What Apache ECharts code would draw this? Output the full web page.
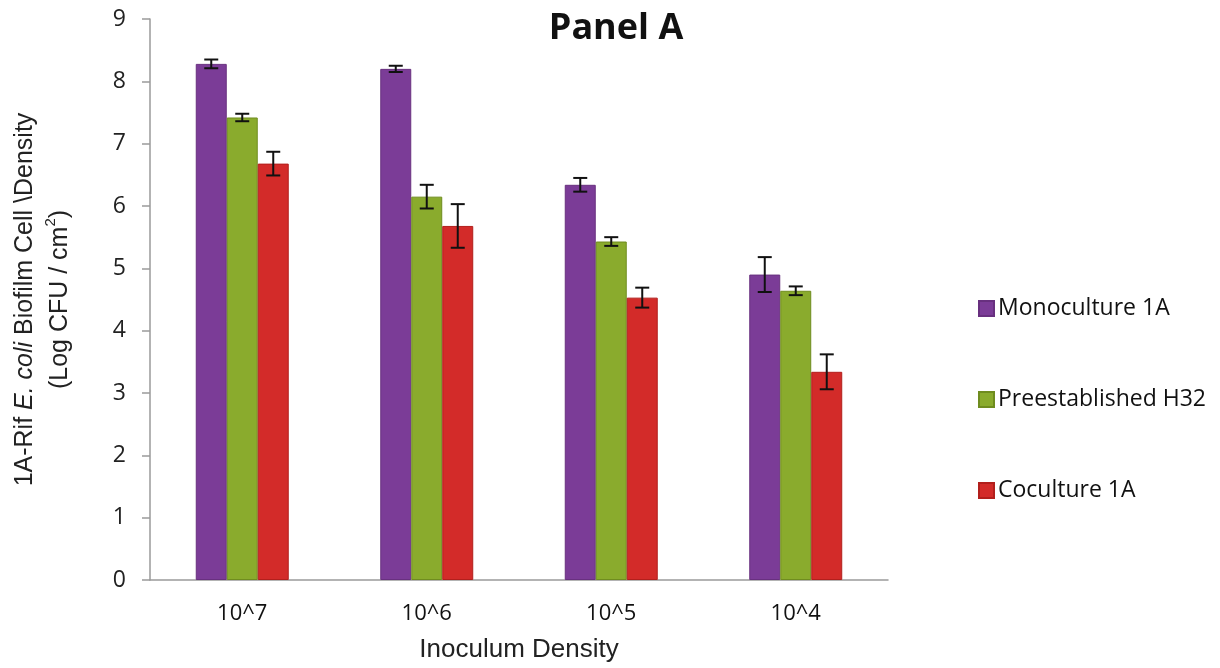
<!DOCTYPE html>
<html>
<head>
<meta charset="utf-8">
<script src="https://cdn.jsdelivr.net/npm/echarts@6/dist/echarts.min.js"></script>
<style>
  html, body { margin: 0; padding: 0; background: #fff; }
  #chart { width: 1220px; height: 668px; }
</style>
</head>
<body>
<div id="chart"></div>
<script>
// Inoculum densities on the x axis
const categories = ['10^7', '10^6', '10^5', '10^4'];
const seriesNames = ['Monoculture 1A', 'Preestablished H32', 'Coculture 1A'];

// Mean log CFU / cm² per inoculum density
const monoculture = [8.28, 8.20, 6.34, 4.90];
const preestablished = [7.42, 6.15, 5.43, 4.64];
const coculture = [6.68, 5.68, 4.53, 3.34];

// Error bar half-widths (± log CFU / cm²)
const monocultureErr = [0.07, 0.05, 0.11, 0.28];
const preestablishedErr = [0.06, 0.19, 0.07, 0.07];
const cocultureErr = [0.19, 0.35, 0.16, 0.28];

const yTicks = [0, 1, 2, 3, 4, 5, 6, 7, 8, 9];

const values = [monoculture, preestablished, coculture];
const errors = [monocultureErr, preestablishedErr, cocultureErr];
const colors = ['#7b3c97', '#8aab2d', '#d32b29'];
const borders = ['#68307f', '#6f8c1f', '#b21f1c'];
const BAR_FRACTION = 0.168;

const chart = echarts.init(document.getElementById('chart'), null, { renderer: 'canvas' });

const barSeries = values.map((vals, i) => ({
  name: seriesNames[i],
  type: 'bar',
  data: vals,
  barWidth: (BAR_FRACTION * 100) + '%',
  barGap: '0%',
  itemStyle: { color: colors[i], borderColor: borders[i], borderWidth: 1 },
  z: 2
}));

// Error bars drawn centred over each bar of the group
const errorSeries = values.map((vals, i) => ({
  name: seriesNames[i] + ' error',
  type: 'custom',
  data: vals.map((v, j) => [j, v - errors[i][j], v + errors[i][j]]),
  renderItem: function (params, api) {
    const band = api.size([1, 0])[0];
    const offset = (i - 1) * band * BAR_FRACTION;
    const lo = api.coord([api.value(0), api.value(1)]);
    const hi = api.coord([api.value(0), api.value(2)]);
    const x = lo[0] + offset;
    const cap = 7;
    const style = { stroke: '#111', lineWidth: 2 };
    return {
      type: 'group',
      children: [
        { type: 'line', shape: { x1: x, y1: lo[1], x2: x, y2: hi[1] }, style },
        { type: 'line', shape: { x1: x - cap, y1: lo[1], x2: x + cap, y2: lo[1] }, style },
        { type: 'line', shape: { x1: x - cap, y1: hi[1], x2: x + cap, y2: hi[1] }, style }
      ]
    };
  },
  encode: { x: 0, y: [1, 2] },
  z: 5,
  silent: true
}));

chart.setOption({
  backgroundColor: '#ffffff',
  animation: false,
  title: {
    text: 'Panel A',
    left: 611,
    top: 6,
    textAlign: 'center',
    textStyle: { fontFamily: 'Open Sans', fontWeight: 'bold', fontSize: 36, color: '#111' }
  },
  legend: {
    data: seriesNames,
    orient: 'vertical',
    left: 973,
    top: 292,
    itemGap: 68,
    itemWidth: 15,
    itemHeight: 15,
    icon: 'rect',
    textStyle: { fontFamily: 'Open Sans', fontSize: 23, color: '#111', padding: [0, 0, 0, -1] }
  },
  grid: { left: 150, right: 332, top: 19, bottom: 88, containLabel: false },
  xAxis: {
    type: 'category',
    data: categories,
    name: 'Inoculum Density',
    nameLocation: 'middle',
    nameGap: 57,
    nameTextStyle: { fontFamily: 'Liberation Sans', fontSize: 26, color: '#222' },
    axisLine: { lineStyle: { color: '#9a9a9a', width: 1.5 } },
    axisTick: { show: false },
    axisLabel: { fontFamily: 'Open Sans', fontSize: 22, color: '#111', margin: 23 }
  },
  yAxis: {
    type: 'value',
    min: yTicks[0],
    max: yTicks[yTicks.length - 1],
    interval: 1,
    name: '{a|1A-Rif }{i|E. coli}{a| Biofilm Cell \\Density}\n{a|(Log CFU / cm}{s|2}{a|)}',
    nameLocation: 'middle',
    nameGap: 72,
    nameRotate: 90,
    nameTextStyle: {
      rich: {
        a: { fontFamily: 'Liberation Sans', fontSize: 25, color: '#222', lineHeight: 35 },
        i: { fontFamily: 'Liberation Sans', fontStyle: 'italic', fontSize: 25, color: '#222', lineHeight: 35 },
        s: { fontFamily: 'Liberation Sans', fontSize: 15, color: '#222', lineHeight: 35, verticalAlign: 'top', padding: [0, 0, 10, 0] }
      }
    },
    axisLine: { show: true, lineStyle: { color: '#9a9a9a', width: 1.5 } },
    axisTick: { show: true, length: 8, lineStyle: { color: '#9a9a9a', width: 1.5 } },
    splitLine: { show: false },
    axisLabel: { fontFamily: 'Open Sans', fontSize: 23, color: '#222', margin: 24 }
  },
  series: barSeries.concat(errorSeries)
});
</script>
</body>
</html>
